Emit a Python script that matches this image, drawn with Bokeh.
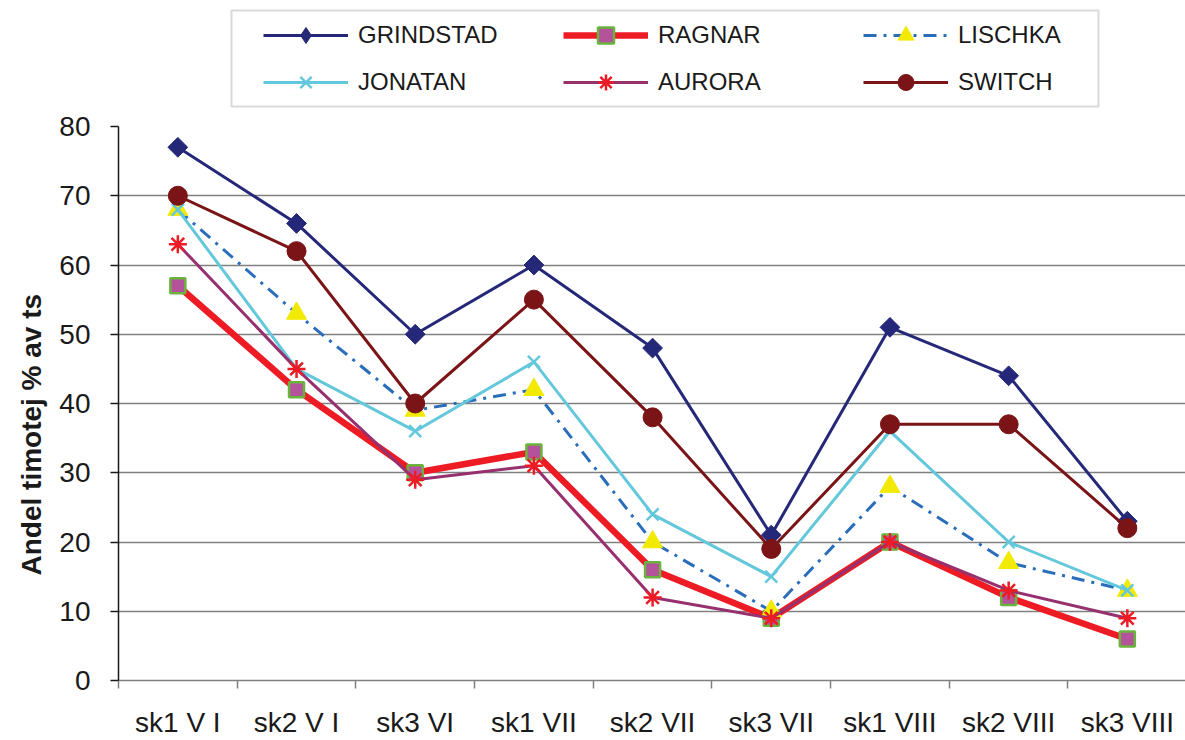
import math
from bokeh.plotting import figure
from bokeh.models import Range1d, FixedTicker, Legend, LegendItem, Title, BoxAnnotation
from bokeh.layouts import column
from bokeh.embed import file_html
from bokeh.resources import INLINE

categories = ["sk1 V I", "sk2 V I", "sk3 VI", "sk1 VII", "sk2 VII", "sk3 VII", "sk1 VIII", "sk2 VIII", "sk3 VIII"]
grindstad = [77, 66, 50, 60, 48, 21, 51, 44, 23]
ragnar = [57, 42, 30, 33, 16, 9, 20, 12, 6]
lischka = [68, 53, 39, 42, 20, 10, 28, 17, 13]
jonatan = [68, 45, 36, 46, 24, 15, 36, 20, 13]
aurora = [63, 45, 29, 31, 12, 9, 20, 13, 9]
switch = [70, 62, 40, 55, 38, 19, 37, 37, 22]
y_ticks = [0, 10, 20, 30, 40, 50, 60, 70, 80]

series_names = ["GRINDSTAD", "RAGNAR", "LISCHKA", "JONATAN", "AURORA", "SWITCH"]
series_values = [grindstad, ragnar, lischka, jonatan, aurora, switch]

xs = list(range(1, len(categories) + 1))
FONT = "Liberation Sans"
TXT = "#1a1a1a"


def draw_series(fig, ys, k, in_legend=False):
    """Draw one series (line + markers) in its reference style; return renderers."""
    if k == 0:
        l = fig.line(xs, ys, line_color="#252878", line_width=3)
        if in_legend:
            m = fig.scatter(xs, ys, marker="diamond", size=18,
                            fill_color="#252878", line_color="#252878")
        else:
            m = fig.scatter(xs, ys, marker="square", angle=math.pi / 4, size=14,
                            fill_color="#252878", line_color="#252878")
    elif k == 1:
        l = fig.line(xs, ys, line_color="#ED1C24", line_width=6.5)
        m = fig.scatter(xs, ys, marker="square", size=15, fill_color="#B5529C",
                        line_color="#6AB43E", line_width=2.5)
    elif k == 2:
        l = fig.line(xs, ys, line_color="#2A6EBB", line_width=3, line_dash="13 7 3 7")
        m = fig.scatter(xs, ys, marker="triangle", size=20, fill_color="#F2EA00",
                        line_color="#F2EA00")
    elif k == 3:
        l = fig.line(xs, ys, line_color="#64C8DC", line_width=3)
        m = fig.scatter(xs, ys, marker="x", size=17, line_color="#64C8DC", line_width=2.5)
    elif k == 4:
        l = fig.line(xs, ys, line_color="#96306E", line_width=3)
        m = fig.scatter(xs, ys, marker="asterisk", size=18, line_color="#ED1C24", line_width=2.5)
    else:
        l = fig.line(xs, ys, line_color="#7A1416", line_width=3)
        m = fig.scatter(xs, ys, marker="circle", size=19, fill_color="#7A1416",
                        line_color="#7A1416")
    return [l, m]


# ---------------- main chart ----------------
p = figure(width=1185, height=632, output_backend="svg", toolbar_location=None,
           x_range=Range1d(0.5, 9.49), y_range=Range1d(0, 80),
           min_border_left=118, min_border_right=0, min_border_top=18, min_border_bottom=60)
p.outline_line_color = None
p.background_fill_color = "white"
p.border_fill_color = "white"

p.xaxis.ticker = FixedTicker(ticks=xs, minor_ticks=[x - 0.5 for x in xs] + [xs[-1] + 0.5])
p.xaxis.major_label_overrides = {x: c for x, c in zip(xs, categories)}
p.xaxis.major_tick_line_color = None
p.xaxis.major_tick_out = 0
p.xaxis.major_tick_in = 0
p.xaxis.minor_tick_out = 8
p.xaxis.minor_tick_in = 0
p.xaxis.minor_tick_line_color = "#808080"
p.xaxis.minor_tick_line_width = 1.5
p.xaxis.axis_line_color = "#808080"
p.xaxis.axis_line_width = 1.5
p.xaxis.major_label_text_font = FONT
p.xaxis.major_label_text_font_size = "28px"
p.xaxis.major_label_text_color = TXT
p.xaxis.major_label_standoff = 18

p.yaxis.ticker = FixedTicker(ticks=y_ticks, minor_ticks=[])
p.yaxis.major_tick_out = 8
p.yaxis.major_tick_in = 0
p.yaxis.major_tick_line_color = TXT
p.yaxis.major_tick_line_width = 1.5
p.yaxis.axis_line_color = TXT
p.yaxis.axis_line_width = 1.5
p.yaxis.major_label_text_font = FONT
p.yaxis.major_label_text_font_size = "28px"
p.yaxis.major_label_text_color = TXT
p.yaxis.major_label_standoff = 20

ytitle = Title(text="Andel timotej % av ts", align="left", offset=105,
               text_font=FONT, text_font_size="28px", text_font_style="bold",
               text_color=TXT, standoff=20)
p.add_layout(ytitle, "left")

p.xgrid.grid_line_color = None
p.ygrid.ticker = FixedTicker(ticks=y_ticks)
p.ygrid.grid_line_color = "#808080"
p.ygrid.grid_line_width = 1.5

for k, ys in enumerate(series_values):
    draw_series(p, ys, k)

# ---------------- legend strip ----------------
# ranges set so that one data unit equals one pixel of the page (frame spans x 118..1185, y 0..108)
leg = figure(width=1185, height=108, output_backend="svg", toolbar_location=None,
             x_range=Range1d(118, 1185), y_range=Range1d(108, 0),
             x_axis_location=None, y_axis_location=None,
             min_border_left=118, min_border_right=0, min_border_top=0, min_border_bottom=0)
leg.grid.visible = False
leg.outline_line_color = None
leg.background_fill_color = "white"
leg.border_fill_color = "white"

leg_renderers = [draw_series(leg, ys, k, in_legend=True) for k, ys in enumerate(series_values)]

leg.add_layout(BoxAnnotation(left=231, right=1098, top=10, bottom=106,
                             fill_alpha=0, line_color="#808080", line_width=2))

col_x = [145, 445, 745]
for c in range(3):
    its = [LegendItem(label=series_names[c], renderers=leg_renderers[c]),
           LegendItem(label=series_names[c + 3], renderers=leg_renderers[c + 3])]
    lg = Legend(items=its, location=(col_x[c], 6), orientation="vertical")
    lg.label_text_font = FONT
    lg.label_text_font_size = "24px"
    lg.label_text_color = TXT
    lg.glyph_width = 85
    lg.glyph_height = 40
    lg.label_height = 40
    lg.label_standoff = 10
    lg.spacing = 7
    lg.padding = 0
    lg.margin = 0
    lg.border_line_color = None
    lg.background_fill_alpha = 0
    leg.add_layout(lg, "center")

layout = column(leg, p, spacing=0)
open("out.html", "w").write(file_html(layout, INLINE))
